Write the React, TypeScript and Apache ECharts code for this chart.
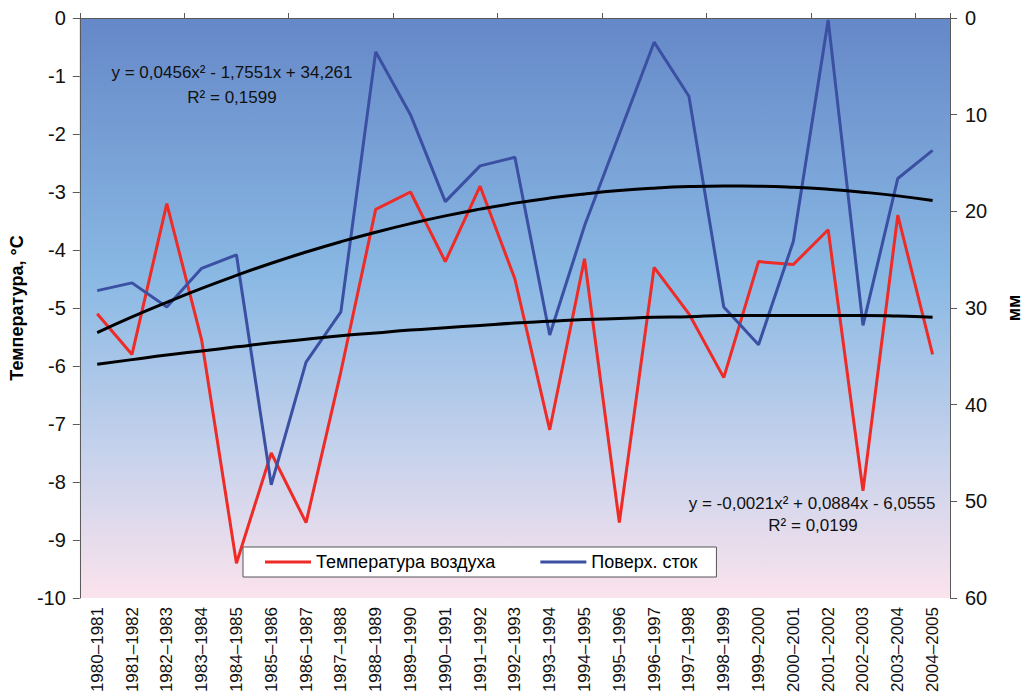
import React, { useEffect, useRef } from "react";
import * as echarts from "echarts";

const categories = [
  "1980–1981", "1981–1982", "1982–1983", "1983–1984", "1984–1985",
  "1985–1986", "1986–1987", "1987–1988", "1988–1989", "1989–1990",
  "1990–1991", "1991–1992", "1992–1993", "1993–1994", "1994–1995",
  "1995–1996", "1996–1997", "1997–1998", "1998–1999", "1999–2000",
  "2000–2001", "2001–2002", "2002–2003", "2003–2004", "2004–2005",
];

// Температура воздуха, °C (left axis)
const airTemperature = [
  -5.1, -5.8, -3.2, -5.55, -9.4, -7.5, -8.7, -6.1, -3.3, -3.0,
  -4.2, -2.9, -4.5, -7.1, -4.15, -8.7, -4.3, -5.1, -6.2, -4.2,
  -4.25, -3.65, -8.15, -3.4, -5.8,
];

// Поверхностный сток, мм (right axis, reversed)
const surfaceRunoff = [
  28.2, 27.4, 29.9, 25.9, 24.5, 48.3, 35.6, 30.4, 3.5, 10.0,
  19.0, 15.3, 14.4, 32.8, 21.5, 12.0, 2.5, 8.1, 29.9, 33.8,
  23.1, 0.2, 31.8, 16.6, 13.7,
];

// Trend line values
const temperatureTrend = [
  -5.97, -5.89, -5.81, -5.74, -5.67, -5.6, -5.54, -5.48, -5.43, -5.38,
  -5.34, -5.3, -5.26, -5.23, -5.2, -5.18, -5.16, -5.15, -5.13, -5.13,
  -5.13, -5.13, -5.13, -5.14, -5.16,
];
const runoffTrend = [
  32.55, 30.93, 29.41, 27.97, 26.63, 25.37, 24.21, 23.14, 22.16, 21.27,
  20.47, 19.77, 19.15, 18.63, 18.2, 17.85, 17.6, 17.44, 17.38, 17.4,
  17.51, 17.72, 18.02, 18.4, 18.88,
];

const seriesNames = ["Температура воздуха", "Поверх. сток"];
const equationTexts = [
  "y = 0,0456x² - 1,7551x + 34,261",
  "R² = 0,1599",
  "y = -0,0021x² + 0,0884x - 6,0555",
  "R² = 0,0199",
];

const FONT = '"Liberation Sans", Arial, sans-serif';

export default function App() {
  const ref = useRef<HTMLDivElement>(null);
  useEffect(() => {
    document.body.style.margin = "0";
    const chart = echarts.init(ref.current!, null, { renderer: "svg" });
    const axisColor = "#5a5a5a";
    chart.setOption({
      animation: false,
      textStyle: { fontFamily: FONT },
      grid: {
        left: 70,
        right: 75,
        top: 18,
        bottom: 100,
        show: true,
        borderWidth: 0,
        backgroundColor: new echarts.graphic.LinearGradient(0, 0, 0, 1, [
          { offset: 0, color: "#6588c8" },
          { offset: 0.45, color: "#8ab9e4" },
          { offset: 0.75, color: "#c6d2ec" },
          { offset: 1, color: "#fbe3ec" },
        ]),
      },
      legend: {
        data: seriesNames,
        left: 243,
        top: 547,
        orient: "horizontal",
        backgroundColor: "#ffffff",
        borderColor: "#555",
        borderWidth: 1,
        borderRadius: 0,
        padding: [6, 19, 6, 22],
        itemGap: 45,
        itemWidth: 46,
        itemHeight: 3,
        icon: "rect",
        textStyle: { fontSize: 18, color: "#000", fontFamily: FONT },
      },
      xAxis: [
        {
          type: "category",
          data: categories,
          position: "bottom",
          boundaryGap: true,
          axisLine: { show: true, lineStyle: { color: axisColor, width: 1 } },
          axisTick: { show: false },
          axisLabel: {
            interval: 0,
            rotate: 90,
            fontSize: 17,
            color: "#111",
            fontFamily: FONT,
            margin: 9,
          },
          splitLine: { show: false },
        },
        {
          type: "category",
          data: categories,
          position: "top",
          boundaryGap: true,
          axisLine: { show: true, lineStyle: { color: axisColor, width: 1 } },
          axisTick: { show: true, length: 5, lineStyle: { color: axisColor } },
          axisLabel: { show: false },
          splitLine: { show: false },
        },
      ],
      yAxis: [
        {
          type: "value",
          min: -10,
          max: 0,
          interval: 1,
          position: "left",
          name: "Температура, °С",
          nameLocation: "middle",
          nameGap: 46,
          nameTextStyle: { fontSize: 18, fontWeight: "bold", color: "#000", fontFamily: FONT },
          axisLine: { show: true, lineStyle: { color: axisColor } },
          axisTick: { show: true, length: 7, lineStyle: { color: axisColor } },
          axisLabel: { fontSize: 20, color: "#111", margin: 14, fontFamily: FONT },
          splitLine: { show: false },
        },
        {
          type: "value",
          min: 0,
          max: 60,
          interval: 10,
          inverse: true,
          position: "right",
          name: "мм",
          nameLocation: "middle",
          nameGap: 55,
          nameTextStyle: { fontSize: 18, fontWeight: "bold", color: "#000", fontFamily: FONT },
          axisLine: { show: true, lineStyle: { color: axisColor } },
          axisTick: { show: true, length: 7, lineStyle: { color: axisColor } },
          axisLabel: { fontSize: 20, color: "#111", margin: 15, fontFamily: FONT },
          splitLine: { show: false },
        },
      ],
      series: [
        {
          name: seriesNames[0],
          type: "line",
          xAxisIndex: 0,
          yAxisIndex: 0,
          data: airTemperature,
          symbol: "none",
          showSymbol: false,
          color: "#ee2b26",
          lineStyle: { color: "#ee2b26", width: 3 },
          z: 3,
        },
        {
          name: seriesNames[1],
          type: "line",
          xAxisIndex: 0,
          yAxisIndex: 1,
          data: surfaceRunoff,
          symbol: "none",
          showSymbol: false,
          color: "#3b50a2",
          lineStyle: { color: "#3b50a2", width: 3 },
          z: 4,
        },
        {
          name: "Тренд температуры",
          type: "line",
          xAxisIndex: 0,
          yAxisIndex: 0,
          data: temperatureTrend,
          symbol: "none",
          showSymbol: false,
          smooth: true,
          color: "#000",
          lineStyle: { color: "#000", width: 3 },
          z: 5,
        },
        {
          name: "Тренд стока",
          type: "line",
          xAxisIndex: 0,
          yAxisIndex: 1,
          data: runoffTrend,
          symbol: "none",
          showSymbol: false,
          smooth: true,
          color: "#000",
          lineStyle: { color: "#000", width: 3 },
          z: 5,
        },
      ],
      graphic: [
        {
          type: "text",
          x: 232,
          y: 72,
          z: 10,
          style: { text: equationTexts[0], font: `17px ${FONT}`, fill: "#111", align: "center", verticalAlign: "middle" },
        },
        {
          type: "text",
          x: 232,
          y: 97,
          z: 10,
          style: { text: equationTexts[1], font: `17px ${FONT}`, fill: "#111", align: "center", verticalAlign: "middle" },
        },
        {
          type: "text",
          x: 812,
          y: 503,
          z: 10,
          style: { text: equationTexts[2], font: `17px ${FONT}`, fill: "#111", align: "center", verticalAlign: "middle" },
        },
        {
          type: "text",
          x: 813,
          y: 525,
          z: 10,
          style: { text: equationTexts[3], font: `17px ${FONT}`, fill: "#111", align: "center", verticalAlign: "middle" },
        },
      ],
    });
    return () => chart.dispose();
  }, []);
  return <div ref={ref} style={{ width: 1031, height: 698 }} />;
}
